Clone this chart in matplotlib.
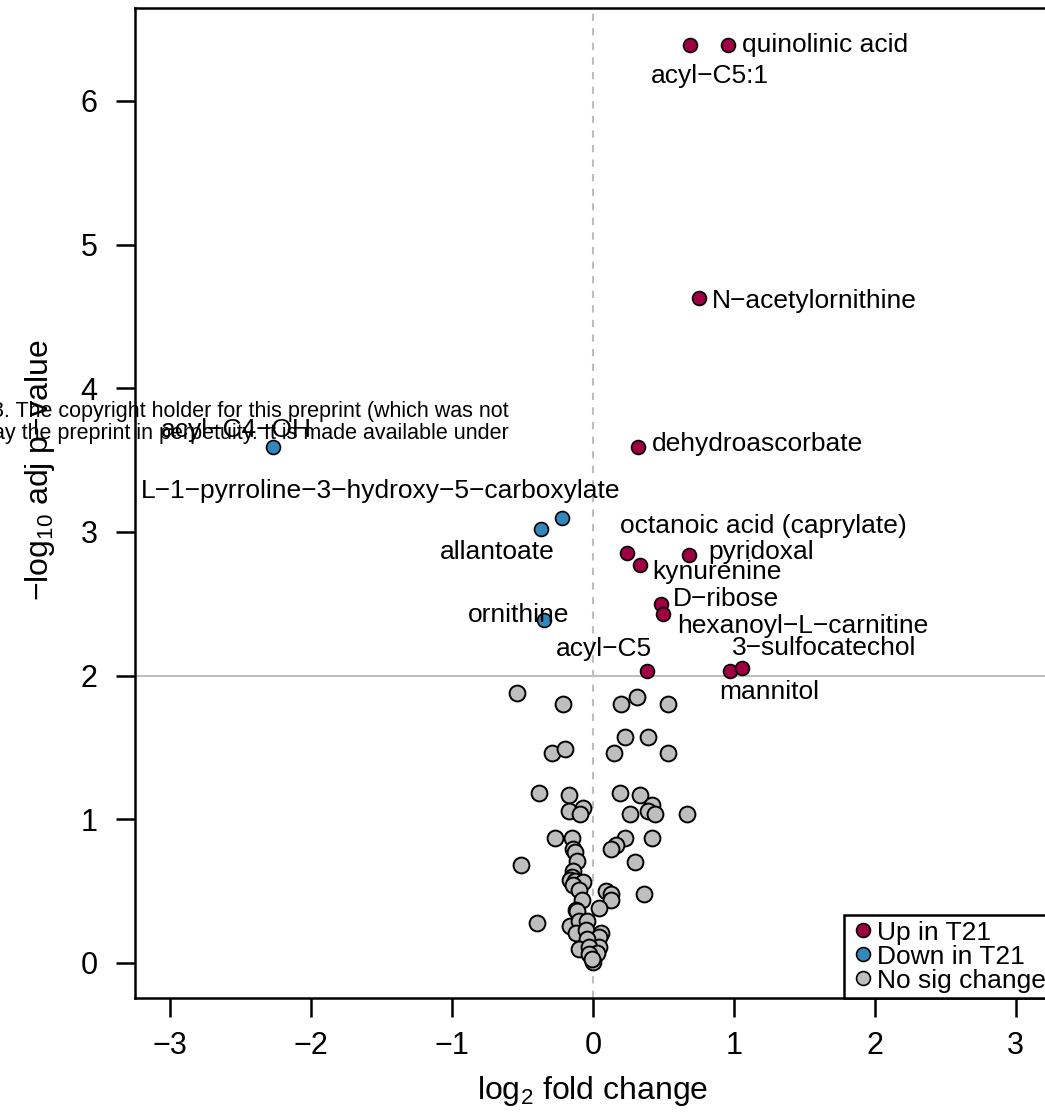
import matplotlib.pyplot as plt
from matplotlib.lines import Line2D

plt.rcParams['font.family'] = ['Liberation Sans', 'DejaVu Sans']
plt.rcParams['mathtext.default'] = 'regular'

UP_COLOR = "#9E0142"
DOWN_COLOR = "#3288BD"
NS_COLOR = "#BEBEBE"

# metabolites up in T21
up_names = ["acyl−C5:1", "quinolinic acid", "N−acetylornithine", "dehydroascorbate",
            "octanoic acid (caprylate)", "kynurenine", "pyridoxal", "D−ribose",
            "hexanoyl−L−carnitine", "acyl−C5", "mannitol", "3−sulfocatechol"]
up_lfc = [0.69, 0.96, 0.75, 0.32, 0.24, 0.33, 0.68, 0.48, 0.50, 0.38, 0.97, 1.06]
up_p = [6.39, 6.39, 4.63, 3.59, 2.85, 2.77, 2.84, 2.50, 2.43, 2.03, 2.03, 2.05]

# metabolites down in T21
down_names = ["acyl−C4−OH", "L−1−pyrroline−3−hydroxy−5−carboxylate", "allantoate", "ornithine"]
down_lfc = [-2.27, -0.22, -0.37, -0.35]
down_p = [3.59, 3.10, 3.02, 2.39]

# no significant change
ns_lfc = [-0.54, -0.21, 0.20, 0.31, 0.53, 0.23, 0.39, -0.29, -0.20, 0.15, 0.53,
          -0.38, -0.17, 0.19, 0.33, -0.17, -0.07, -0.09, 0.26, 0.42, 0.39, 0.44, 0.67,
          -0.27, -0.15, 0.23, 0.42, -0.14, -0.13, 0.16, 0.13, -0.11, 0.30, -0.51,
          -0.14, -0.15, -0.16, -0.13, -0.07, -0.14, -0.10, 0.09, 0.13, 0.36, 0.13,
          -0.08, 0.04, -0.12, -0.11, -0.40, -0.16, -0.10, -0.04, -0.12, -0.05, 0.06,
          0.04, -0.04, -0.10, 0.04, -0.03, 0.03, -0.03, 0.00, -0.01]
ns_p = [1.88, 1.80, 1.80, 1.85, 1.80, 1.57, 1.57, 1.46, 1.49, 1.46, 1.46,
        1.18, 1.17, 1.18, 1.17, 1.06, 1.08, 1.04, 1.04, 1.10, 1.06, 1.04, 1.04,
        0.87, 0.87, 0.87, 0.87, 0.79, 0.77, 0.82, 0.79, 0.71, 0.70, 0.68,
        0.64, 0.60, 0.58, 0.57, 0.56, 0.54, 0.51, 0.50, 0.48, 0.48, 0.44,
        0.44, 0.38, 0.37, 0.36, 0.28, 0.26, 0.29, 0.29, 0.21, 0.23, 0.21,
        0.18, 0.17, 0.10, 0.11, 0.11, 0.07, 0.06, 0.01, 0.03]

p_cutoff = 2

# where each label sits (text centre, data units)
label_pos = {
    "acyl−C5:1": (0.83, 6.17),
    "quinolinic acid": (1.645, 6.39),
    "N−acetylornithine": (1.57, 4.61),
    "dehydroascorbate": (1.17, 3.61),
    "octanoic acid (caprylate)": (1.21, 3.04),
    "kynurenine": (0.88, 2.72),
    "pyridoxal": (1.19, 2.86),
    "D−ribose": (0.94, 2.53),
    "hexanoyl−L−carnitine": (1.49, 2.345),
    "acyl−C5": (0.08, 2.185),
    "mannitol": (1.25, 1.886),
    "3−sulfocatechol": (1.64, 2.19),
    "acyl−C4−OH": (-2.53, 3.71),
    "L−1−pyrroline−3−hydroxy−5−carboxylate": (-1.51, 3.285),
    "allantoate": (-0.68, 2.86),
    "ornithine": (-0.53, 2.42),
}

fig = plt.figure(figsize=(10.45, 11.12), dpi=100)
ax = fig.add_axes([135 / 1045, 114 / 1112, 916 / 1045, 990 / 1112])

ax.axhline(p_cutoff, color=NS_COLOR, lw=1.5, zorder=1)
ax.axvline(0, color=NS_COLOR, lw=1.5, ls=(0, (3.5, 3.5)), zorder=1)

ax.scatter(ns_lfc, ns_p, s=130, c=NS_COLOR, edgecolors="black", linewidths=1.4, zorder=2)
ax.scatter(up_lfc, up_p, s=100, c=UP_COLOR, edgecolors="black", linewidths=1.2, zorder=3)
ax.scatter(down_lfc, down_p, s=100, c=DOWN_COLOR, edgecolors="black", linewidths=1.2, zorder=3)

for name in up_names + down_names:
    x, y = label_pos[name]
    ax.text(x, y, name, fontsize=19, ha="center", va="center", zorder=4)

ax.set_xlim(-3.25, 3.25)
ax.set_ylim(-0.244, 6.646)
ax.set_xticks(range(-3, 4))
ax.set_yticks(range(0, 7))
for sp in ax.spines.values():
    sp.set_linewidth(1.8)
ax.tick_params(length=14, width=1.8, labelsize=22)
ax.tick_params(axis="x", pad=10)
ax.tick_params(axis="y", pad=13)

ax.set_xlabel("log$_2$ fold change", fontsize=23)
ax.xaxis.label.set_va("center")
ax.xaxis.set_label_coords(0.5, -0.094)
ax.set_ylabel("−log$_{10}$ adj p−value", fontsize=23)
ax.yaxis.label.set_va("center")
ax.yaxis.set_label_coords(-0.1037, 0.5333)

handles = [Line2D([], [], ls="", marker="o", ms=10, mfc=c, mec="black", mew=1.2)
           for c in (UP_COLOR, DOWN_COLOR, NS_COLOR)]
leg = ax.legend(handles, ["Up in T21", "Down in T21", "No sig change"], fontsize=19,
                loc="lower left", bbox_to_anchor=((844 - 135) / 916, 0),
                borderaxespad=0, borderpad=0.2, labelspacing=0.0,
                handlelength=1.04, handletextpad=0.02, fancybox=False,
                framealpha=1, edgecolor="black")
leg.get_frame().set_linewidth(1.8)

# bioRxiv watermark over the plot
fig.text(509 / 1045, 1 - 411 / 1112, "3. The copyright holder for this preprint (which was not",
         fontsize=15.5, ha="right", va="center")
fig.text(509 / 1045, 1 - 433 / 1112, "ay the preprint in perpetuity. It is made available under",
         fontsize=15.5, ha="right", va="center")

fig.savefig("out.png", dpi=100)
